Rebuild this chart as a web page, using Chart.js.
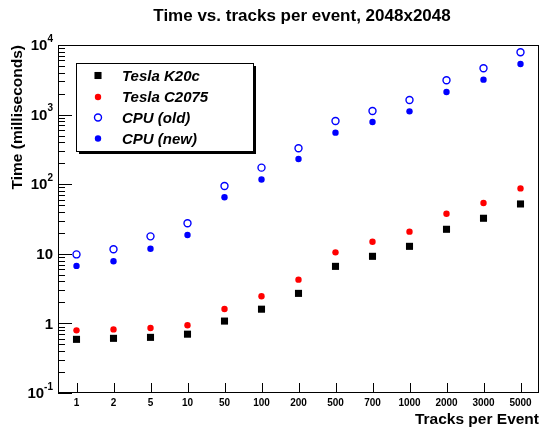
<!DOCTYPE html>
<html>
<head>
<meta charset="utf-8">
<script src="https://cdn.jsdelivr.net/npm/chart.js@4/dist/chart.umd.min.js"></script>
<style>
  body { margin: 0; background: #fff; }
  #wrap { width: 544px; height: 428px; position: relative; }
</style>
</head>
<body>
<div id="wrap"><canvas id="c"></canvas></div>
<script>
const tracks = ['1', '2', '5', '10', '50', '100', '200', '500', '700', '1000', '2000', '3000', '5000'];
const teslaK20c = [0.59, 0.61, 0.63, 0.70, 1.08, 1.60, 2.70, 6.6, 9.2, 12.8, 22.5, 32.4, 52];
const teslaC2075 = [0.795, 0.82, 0.86, 0.94, 1.61, 2.45, 4.25, 10.5, 14.9, 20.8, 37.7, 53.7, 87];
const cpuOld = [9.8, 11.6, 17.8, 27.5, 94, 173, 328, 809, 1127, 1622, 3113, 4624, 7850];
const cpuNew = [6.7, 7.8, 11.8, 18.6, 65, 117, 230, 550, 783, 1114, 2113, 3176, 5333];
const yTicks = [0.1, 1, 10, 100, 1000, 10000];
const yTickLabels = [['10', '-1'], ['1', ''], ['10', ''], ['10', '2'], ['10', '3'], ['10', '4']];

const BOLD = 'bold ';
const FAM = 'Arial, "Liberation Sans", Helvetica, sans-serif';

const datasets = [
  { label: 'Tesla K20c', data: teslaK20c, pointStyle: 'rect', pointRadius: 5,
    backgroundColor: '#000', borderColor: '#000', borderWidth: 0 },
  { label: 'Tesla C2075', data: teslaC2075, pointStyle: 'circle', pointRadius: 3.2,
    backgroundColor: '#ff0000', borderColor: '#ff0000', borderWidth: 0 },
  { label: 'CPU (old)', data: cpuOld, pointStyle: 'circle', pointRadius: 3.5,
    backgroundColor: 'rgba(0,0,0,0)', borderColor: '#0000ff', borderWidth: 1.4 },
  { label: 'CPU (new)', data: cpuNew, pointStyle: 'circle', pointRadius: 3.2,
    backgroundColor: '#0000ff', borderColor: '#0000ff', borderWidth: 0 }
].map(d => Object.assign(d, { showLine: false, pointHoverRadius: d.pointRadius }));

// frame, ticks, labels and legend in ROOT style
const rootDecor = {
  id: 'rootDecor',
  afterDraw(chart) {
    const ctx = chart.ctx;
    const a = chart.chartArea;
    const xs = chart.scales.x, ys = chart.scales.y;
    ctx.save();
    ctx.strokeStyle = '#000';
    ctx.lineWidth = 1;
    ctx.strokeRect(a.left + 0.5, a.top + 0.5, a.right - a.left - 1, a.bottom - a.top - 1);

    // y ticks: majors and log minors
    ctx.beginPath();
    for (let d = -1; d <= 4; d++) {
      const yp = Math.round(ys.getPixelForValue(Math.pow(10, d))) + 0.5;
      ctx.moveTo(a.left, yp); ctx.lineTo(a.left + 14, yp);
      if (d < 4) {
        for (let m = 2; m <= 9; m++) {
          const ym = Math.round(ys.getPixelForValue(m * Math.pow(10, d))) + 0.5;
          ctx.moveTo(a.left, ym); ctx.lineTo(a.left + 7, ym);
        }
      }
    }
    // x ticks
    tracks.forEach((t, i) => {
      const xp = Math.round(xs.getPixelForValue(i)) + 0.5;
      ctx.moveTo(xp, a.bottom); ctx.lineTo(xp, a.bottom - 10);
    });
    ctx.stroke();

    // y tick labels
    ctx.fillStyle = '#000';
    ctx.textBaseline = 'middle';
    yTicks.forEach((v, i) => {
      const yp = ys.getPixelForValue(v);
      const [base, exp] = yTickLabels[i];
      const right = a.left - 5;
      ctx.font = BOLD + '10px ' + FAM;
      const ew = exp ? ctx.measureText(exp).width : 0;
      ctx.textAlign = 'left';
      if (exp) ctx.fillText(exp, right - ew, yp - 6);
      ctx.font = BOLD + '15px ' + FAM;
      ctx.textAlign = 'right';
      ctx.fillText(base, right - ew, yp + 1);
    });

    // x tick labels
    ctx.font = BOLD + '10px ' + FAM;
    ctx.textAlign = 'center';
    tracks.forEach((t, i) => {
      ctx.fillText(t, xs.getPixelForValue(i), a.bottom + 10);
    });

    // axis titles
    ctx.font = BOLD + '15.5px ' + FAM;
    ctx.textAlign = 'right';
    ctx.fillText('Tracks per Event', a.right, 420);
    ctx.save();
    ctx.translate(18, a.top);
    ctx.rotate(-Math.PI / 2);
    ctx.textAlign = 'right';
    ctx.fillText('Time (milliseconds)', 0, 0);
    ctx.restore();

    // main title
    ctx.font = BOLD + '17px ' + FAM;
    ctx.textAlign = 'center';
    ctx.fillText('Time vs. tracks per event, 2048x2048', 302, 16);

    // legend with shadow
    const L = 76, T = 63, W = 177, H = 88;
    ctx.fillStyle = '#000';
    ctx.fillRect(L + 3, T + 3, W, H);
    ctx.fillStyle = '#fff';
    ctx.fillRect(L, T, W, H);
    ctx.strokeRect(L + 0.5, T + 0.5, W, H);
    const rowsY = [75.5, 97, 117.5, 138.5];
    chart.data.datasets.forEach((ds, i) => {
      ctx.fillStyle = ds.backgroundColor;
      ctx.strokeStyle = ds.borderColor;
      ctx.lineWidth = ds.borderWidth;
      Chart.helpers.drawPoint(ctx, {
        pointStyle: ds.pointStyle, radius: ds.pointRadius, rotation: 0, borderWidth: ds.borderWidth
      }, 98, rowsY[i]);
      ctx.fillStyle = '#000';
      ctx.font = 'italic bold 15px ' + FAM;
      ctx.textAlign = 'left';
      ctx.fillText(ds.label, 122, rowsY[i] + 1);
    });
    ctx.restore();
  }
};

new Chart(document.getElementById('c'), {
  type: 'line',
  data: { labels: tracks, datasets: datasets },
  options: {
    responsive: true,
    maintainAspectRatio: false,
    animation: false,
    layout: { padding: { left: 58, right: 3, top: 45, bottom: 35 } },
    plugins: { legend: { display: false }, tooltip: { enabled: false }, title: { display: false } },
    scales: {
      x: { type: 'category', offset: true, display: false },
      y: { type: 'logarithmic', min: 0.1, max: 10000, display: false }
    }
  },
  plugins: [rootDecor]
});
</script>
</body>
</html>
